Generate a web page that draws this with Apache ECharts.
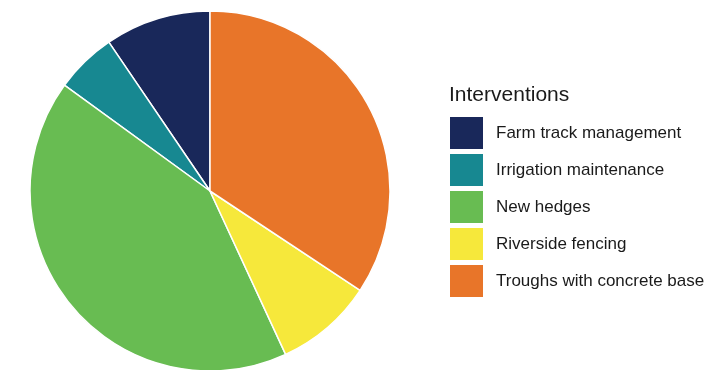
<!DOCTYPE html>
<html>
<head>
<meta charset="utf-8">
<script src="https://cdn.jsdelivr.net/npm/echarts@6/dist/echarts.min.js"></script>
<style>
html,body{margin:0;padding:0;background:#fff;}
#chart{width:727px;height:370px;}
</style>
</head>
<body>
<div id="chart"></div>
<script>
const categories = ["Farm track management", "Irrigation maintenance", "New hedges", "Riverside fencing", "Troughs with concrete base"];
const values = [9.5, 5.5, 41.9, 8.8, 34.3];
const colors = ["#19285a", "#178891", "#68bc52", "#f6e83b", "#e87529"];
const legendTitle = "Interventions";

const chart = echarts.init(document.getElementById('chart'), null, {renderer: 'canvas'});
chart.setOption({
  animation: false,
  backgroundColor: '#ffffff',
  title: {
    text: legendTitle,
    left: 449,
    top: 85,
    padding: 0,
    textStyle: {fontFamily: 'Liberation Sans, Arial, sans-serif', fontSize: 21, fontWeight: 'normal', color: '#1a1a1a'}
  },
  legend: {
    orient: 'vertical',
    left: 450,
    top: 117,
    padding: 0,
    itemWidth: 33,
    itemHeight: 32,
    itemGap: 5,
    icon: 'rect',
    selectedMode: false,
    data: categories,
    itemStyle: {borderWidth: 0},
    textStyle: {fontFamily: 'Liberation Sans, Arial, sans-serif', fontSize: 17, color: '#1a1a1a', padding: [0, 0, 0, 8]}
  },
  series: [{
    type: 'pie',
    center: [210, 191],
    radius: [0, 180],
    startAngle: 90,
    clockwise: false,
    label: {show: false},
    labelLine: {show: false},
    emphasis: {disabled: true},
    itemStyle: {borderColor: '#ffffff', borderWidth: 1.5},
    data: categories.map((c, i) => ({name: c, value: values[i], itemStyle: {color: colors[i]}}))
  }]
});
</script>
</body>
</html>
